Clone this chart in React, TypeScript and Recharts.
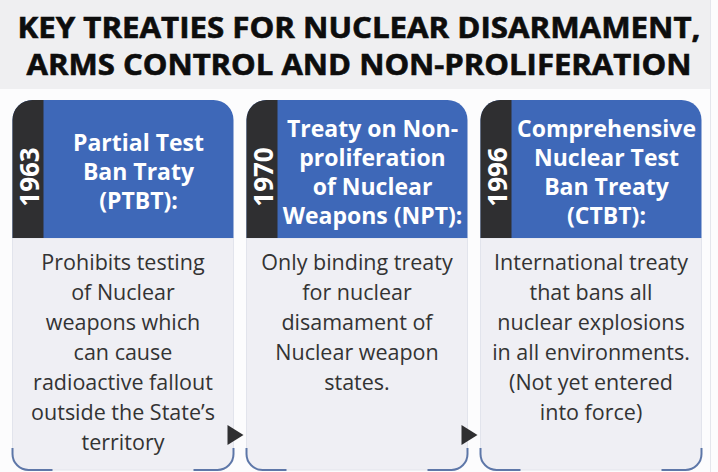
import React from "react";
import { BarChart, Bar, XAxis, YAxis } from "recharts";

const titleLines = [
  "KEY TREATIES FOR NUCLEAR DISARMAMENT,",
  "ARMS CONTROL AND NON-PROLIFERATION",
];

const years = ["1963", "1970", "1996"];

const treatyNames = [
  ["Partial Test", "Ban Traty", "(PTBT):"],
  ["Treaty on Non-", "proliferation", "of Nuclear", "Weapons (NPT):"],
  ["Comprehensive", "Nuclear Test", "Ban Treaty", "(CTBT):"],
];

const descriptions = [
  [
    "Prohibits testing",
    "of Nuclear",
    "weapons which",
    "can cause",
    "radioactive fallout",
    "outside the State\u2019s",
    "territory",
  ],
  ["Only binding treaty", "for nuclear", "disamament of", "Nuclear weapon", "states."],
  [
    "International treaty",
    "that bans all",
    "nuclear explosions",
    "in all environments.",
    "(Not yet entered",
    "into force)",
  ],
];

// every card is the same height, so one full-height bar per treaty
const cardValues = [1, 1, 1];

const data = years.map((year, i) => ({ year, value: cardValues[i] }));

const BLUE = "#3e68b8";
const DARK = "#2f2f31";
const BODY = "#efeff4";
const HEADER_H = 138;
const STRIP_W = 31;
const R = 20;
const RB = 16;
const FONT = "'Open Sans', sans-serif";

const TreatyCard = (props: any) => {
  const { x, y, width, height, index } = props;
  const w = width;
  const hb = y + HEADER_H;
  const bottom = y + height;
  const names = treatyNames[index];
  const desc = descriptions[index];
  const blueCx = x + STRIP_W + (w - STRIP_W) / 2;
  const headStart = y + HEADER_H / 2 - ((names.length - 1) * 29) / 2 + 11;
  const stripCx = x + STRIP_W / 2 + 1;
  const yearCy = y + 77;

  return (
    <g>
      <path
        d={`M${x},${hb} H${x + w} V${bottom - RB} A${RB},${RB} 0 0 1 ${x + w - RB},${bottom} H${x + RB} A${RB},${RB} 0 0 1 ${x},${bottom - RB} Z`}
        fill={BODY}
        stroke="#e2e4ec"
        strokeWidth={1}
      />
      <path
        d={`M${x},${bottom - RB - 6} V${bottom - RB} A${RB},${RB} 0 0 0 ${x + RB},${bottom} H${x + 40}`}
        fill="none"
        stroke="#3b5a96"
        strokeWidth={2}
        strokeOpacity={0.8}
      />
      <path
        d={`M${x + w - 40},${bottom} H${x + w - RB} A${RB},${RB} 0 0 0 ${x + w},${bottom - RB} V${bottom - RB - 6}`}
        fill="none"
        stroke="#3b5a96"
        strokeWidth={2}
        strokeOpacity={0.8}
      />
      <path
        d={`M${x},${y + R} A${R},${R} 0 0 1 ${x + R},${y} H${x + w - R} A${R},${R} 0 0 1 ${x + w},${y + R} V${hb} H${x} Z`}
        fill={BLUE}
      />
      <path
        d={`M${x},${y + R} A${R},${R} 0 0 1 ${x + R},${y} H${x + STRIP_W} V${hb} H${x} Z`}
        fill={DARK}
      />
      <text
        x={stripCx}
        y={yearCy}
        transform={`rotate(-90 ${stripCx} ${yearCy})`}
        textAnchor="middle"
        dominantBaseline="central"
        fill="#ffffff"
        fontFamily={FONT}
        fontWeight={700}
        fontSize={26}
      >
        {years[index]}
      </text>
      {names.map((line: string, j: number) => (
        <text
          key={j}
          x={blueCx}
          y={headStart + j * 29}
          textAnchor="middle"
          fill="#ffffff"
          fontFamily={FONT}
          fontWeight={700}
          fontSize={23}
        >
          {line}
        </text>
      ))}
      {desc.map((line: string, j: number) => (
        <text
          key={j}
          x={x + w / 2}
          y={y + 170 + j * 30}
          textAnchor="middle"
          fill="#333333"
          fontFamily={FONT}
          fontSize={21.5}
        >
          {line}
        </text>
      ))}
      {index < years.length - 1 && (
        <path
          d={`M${x + w - 6},${y + 325} L${x + w + 10},${y + 335} L${x + w - 6},${y + 345} Z`}
          fill="#2f2f31"
        />
      )}
    </g>
  );
};

export default function App() {
  return (
    <div
      style={{
        position: "absolute",
        left: 0,
        top: 0,
        width: 718,
        height: 472,
        background: "#fcfcfd",
        overflow: "hidden",
      }}
    >
      <div
        style={{
          position: "absolute",
          left: 0,
          top: 0,
          width: 711,
          height: 89,
          background: "#efeff1",
        }}
      />
      <div
        style={{
          position: "absolute",
          left: 710,
          top: 0,
          width: 1,
          height: 472,
          background: "#e4e6ec",
        }}
      />
      <svg
        width={718}
        height={90}
        style={{ position: "absolute", left: 0, top: 0 }}
      >
        {titleLines.map((line, i) => (
          <text
            key={i}
            x={359}
            y={38 + i * 37}
            textAnchor="middle"
            textLength={i === 0 ? 683 : 665}
            lengthAdjust="spacingAndGlyphs"
            fill="#0d0d0d"
            stroke="#0d0d0d"
            strokeWidth={0.6}
            fontFamily={FONT}
            fontWeight={700}
            fontSize={29}
          >
            {line}
          </text>
        ))}
      </svg>
      <div style={{ position: "absolute", left: 0, top: 0 }}>
        <BarChart
          width={718}
          height={472}
          data={data}
          margin={{ top: 100, right: 10, bottom: 2, left: 6 }}
          barCategoryGap={6.5}
        >
          <XAxis dataKey="year" hide />
          <YAxis domain={[0, 1]} hide />
          <Bar
            dataKey="value"
            isAnimationActive={false}
            shape={TreatyCard}
          />
        </BarChart>
      </div>
    </div>
  );
}
